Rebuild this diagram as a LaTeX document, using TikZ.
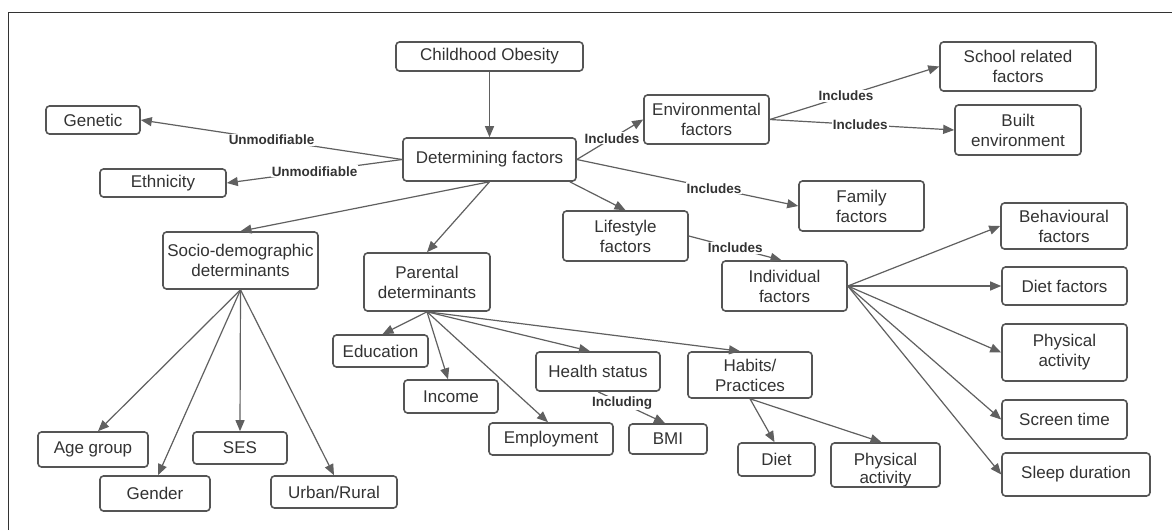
\documentclass[tikz,border=0pt]{standalone}
\usepackage{fontspec}
\setmainfont{Liberation Sans}
\usetikzlibrary{arrows.meta,calc}
\definecolor{boxc}{HTML}{555555}
\definecolor{txtc}{HTML}{333333}
\definecolor{linec}{HTML}{606060}
\begin{document}
\begin{tikzpicture}[x=1pt,y=-1pt,
  box/.style={draw=boxc,line width=1.6pt,rounded corners=3.5pt,fill=white,
    text=txtc,align=center,inner sep=0pt,font=\fontsize{17}{20}\selectfont},
  conn/.style={draw=linec,line width=1.2pt,-{Triangle[length=11pt,width=9pt]}},
  lab/.style={fill=white,inner sep=1pt,text=txtc,font=\fontsize{13.5}{15}\selectfont\bfseries}]
\useasboundingbox (0,0) rectangle (1172,530);
\fill[white] (0,0) rectangle (1172,530);
\draw[line width=1pt,color=txtc] (8.5,530) -- (8.5,12) -- (1172,12);

% nodes
\node[box,minimum width=187,minimum height=29] (co) at (489.5,56.5) {Childhood Obesity};
\node[box,minimum width=173,minimum height=43] (df) at (489.5,159.5) {Determining factors};
\node[box,minimum width=94,minimum height=28] (gen) at (93,120) {Genetic};
\node[box,minimum width=126,minimum height=28] (eth) at (163,183) {Ethnicity};
\node[box,minimum width=125,minimum height=49] (env) at (706.5,119.5) {Environmental\\factors};
\node[box,minimum width=156,minimum height=49] (sch) at (1018,66.5) {School related\\factors};
\node[box,minimum width=126,minimum height=50] (blt) at (1018,130) {Built\\environment};
\node[box,minimum width=125,minimum height=50] (fam) at (861.5,206) {Family\\factors};
\node[box,minimum width=155,minimum height=57] (soc) at (240.5,260.5) {Socio-demographic\\determinants};
\node[box,minimum width=126,minimum height=58] (par) at (427,282) {Parental\\determinants};
\node[box,minimum width=125,minimum height=50] (life) at (625.5,236) {Lifestyle\\factors};
\node[box,minimum width=125,minimum height=50] (ind) at (784.5,286) {Individual\\factors};
\node[box,minimum width=126,minimum height=46] (beh) at (1064,226) {Behavioural\\factors};
\node[box,minimum width=125,minimum height=38] (dfac) at (1064.5,286) {Diet factors};
\node[box,minimum width=125,minimum height=57] (pa1) at (1064.5,352.5) {Physical\\activity};
\node[box,minimum width=125,minimum height=39] (scr) at (1064.5,419.5) {Screen time};
\node[box,minimum width=148,minimum height=43] (slp) at (1076,474.5) {Sleep duration};
\node[box,minimum width=110,minimum height=35] (age) at (93,449.5) {Age group};
\node[box,minimum width=110,minimum height=35] (gnd) at (155,493.5) {Gender};
\node[box,minimum width=94,minimum height=32] (ses) at (240,448) {SES};
\node[box,minimum width=126,minimum height=32] (urb) at (334,492) {Urban/Rural};
\node[box,minimum width=95,minimum height=32] (edu) at (380.5,351) {Education};
\node[box,minimum width=94,minimum height=33] (inc) at (451,396.5) {Income};
\node[box,minimum width=124,minimum height=32] (emp) at (551,439) {Employment};
\node[box,minimum width=124,minimum height=39] (hs) at (598,371.5) {Health status};
\node[box,minimum width=124,minimum height=46] (hab) at (750,375) {Habits/\\Practices};
\node[box,minimum width=78,minimum height=30] (bmi) at (668,439) {BMI};
\node[box,minimum width=77,minimum height=33] (diet) at (776.5,459.5) {Diet};
\node[text=txtc,align=center,inner sep=0pt,font=\fontsize{17}{18.5}\selectfont] (pa2t) at (885.5,470) {Physical\\activity};
\node[box,fill=none,minimum width=109,minimum height=44] (pa2) at (885.5,465) {};

% connectors
\draw[conn] (co.south) -- (df.north);
\draw[conn] (df.west) -- node[lab,pos=0.5]{Unmodifiable} (gen.east);
\draw[conn] (df.west) -- node[lab,pos=0.5]{Unmodifiable} (eth.east);
\draw[conn] (df.east) -- node[lab,pos=0.53]{Includes} (env.west);
\draw[conn] (df.east) -- node[lab,pos=0.62]{Includes} (fam.west);
\draw[conn] (df.south) -- (soc.north);
\draw[conn] (df.south) -- (par.north);
\draw[conn] ([xshift=-7pt]df.south east) -- (life.north);
\draw[conn] (env.east) -- node[lab,pos=0.45]{Includes} (sch.west);
\draw[conn] (env.east) -- node[lab,pos=0.49]{Includes} (blt.west);
\draw[conn] (life.east) -- node[lab,pos=0.5]{Includes} ([xshift=-3pt]ind.north);
\draw[conn] (ind.east) -- (beh.west);
\draw[conn] (ind.east) -- (dfac.west);
\draw[conn] (ind.east) -- (pa1.west);
\draw[conn] (ind.east) -- (scr.west);
\draw[conn] (ind.east) -- (slp.west);
\draw[conn] (soc.south) -- ([xshift=5pt]age.north);
\draw[conn] (soc.south) -- ([xshift=3pt]gnd.north);
\draw[conn] (soc.south) -- (ses.north);
\draw[conn] (soc.south) -- (urb.north);
\draw[conn] (par.south) -- ([xshift=2pt]edu.north);
\draw[conn] (par.south) -- ([xshift=-3pt]inc.north);
\draw[conn] (par.south) -- ([xshift=-3pt]emp.north);
\draw[conn] (par.south) -- ([xshift=-8pt]hs.north);
\draw[conn] (par.south) -- ([xshift=-10pt]hab.north);
\draw[conn] (hs.south) -- node[lab,pos=0.36]{Including} ([xshift=-3pt]bmi.north);
\draw[conn] (hab.south) -- ([xshift=-2pt]diet.north);
\draw[conn] (hab.south) -- ([xshift=-4pt]pa2.north);
\end{tikzpicture}
\end{document}
